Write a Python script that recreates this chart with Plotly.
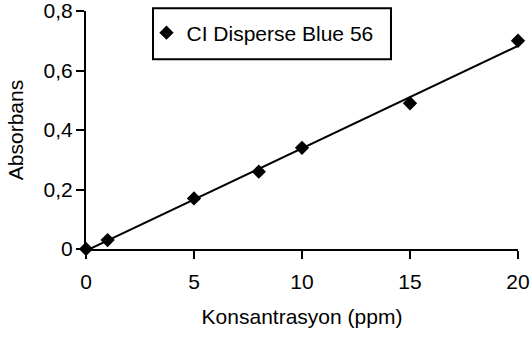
import numpy as np
import plotly.graph_objects as go

# Calibration data: dye concentration vs. absorbance
concentration_ppm = [0, 1, 5, 8, 10, 15, 20]
absorbance = [0.0, 0.03, 0.17, 0.26, 0.34, 0.49, 0.70]
series_name = "CI Disperse Blue 56"
x_tick_values = [0, 5, 10, 15, 20]

# Linear trendline (least squares) over the concentration range
slope, intercept = np.polyfit(concentration_ppm, absorbance, 1)
trend_x = [min(concentration_ppm), max(concentration_ppm)]
trend_y = [slope * x + intercept for x in trend_x]

FONT = "Liberation Sans"
FS = 21
TEXT = dict(family=FONT, size=FS, color="black")

fig = go.Figure()
fig.add_trace(go.Scatter(
    x=trend_x, y=trend_y, mode="lines",
    line=dict(color="black", width=2),
    showlegend=False, hoverinfo="skip", cliponaxis=False,
))
fig.add_trace(go.Scatter(
    x=concentration_ppm, y=absorbance, mode="markers",
    name=series_name,
    marker=dict(symbol="diamond", size=11, color="black"),
    cliponaxis=False,
))

# Legend frame
fig.add_shape(type="rect", xref="paper", yref="paper",
              x0=0.1551, x1=0.706, y0=0.797, y1=1.0113,
              line=dict(color="black", width=2))

fig.update_layout(
    width=532, height=337,
    margin=dict(l=86, r=14, t=11, b=88),
    paper_bgcolor="white", plot_bgcolor="white",
    font=TEXT,
    separators=",.",
    showlegend=True,
    legend=dict(x=0.14, y=0.9076, xanchor="left", yanchor="middle",
                bgcolor="rgba(0,0,0,0)", borderwidth=0, font=TEXT),
)
fig.update_xaxes(
    range=[0, 20], tickvals=x_tick_values,
    showline=True, linecolor="black", linewidth=2, automargin=False,
    ticks="outside", ticklen=8, tickwidth=2, tickcolor="black",
    showgrid=False, zeroline=False,
    title=dict(text="Konsantrasyon (ppm)", standoff=17, font=TEXT),
    ticklabelstandoff=5, ticklabeloverflow="allow",
)
fig.update_yaxes(
    range=[0, 0.8], dtick=0.2,
    showline=True, linecolor="black", linewidth=2, automargin=False,
    ticks="outside", ticklen=8, tickwidth=2, tickcolor="black",
    showgrid=False, zeroline=False,
    title=dict(text="Absorbans", standoff=14, font=TEXT),
    ticklabelstandoff=-1, ticklabeloverflow="allow",
)

fig.write_html("out.html")
